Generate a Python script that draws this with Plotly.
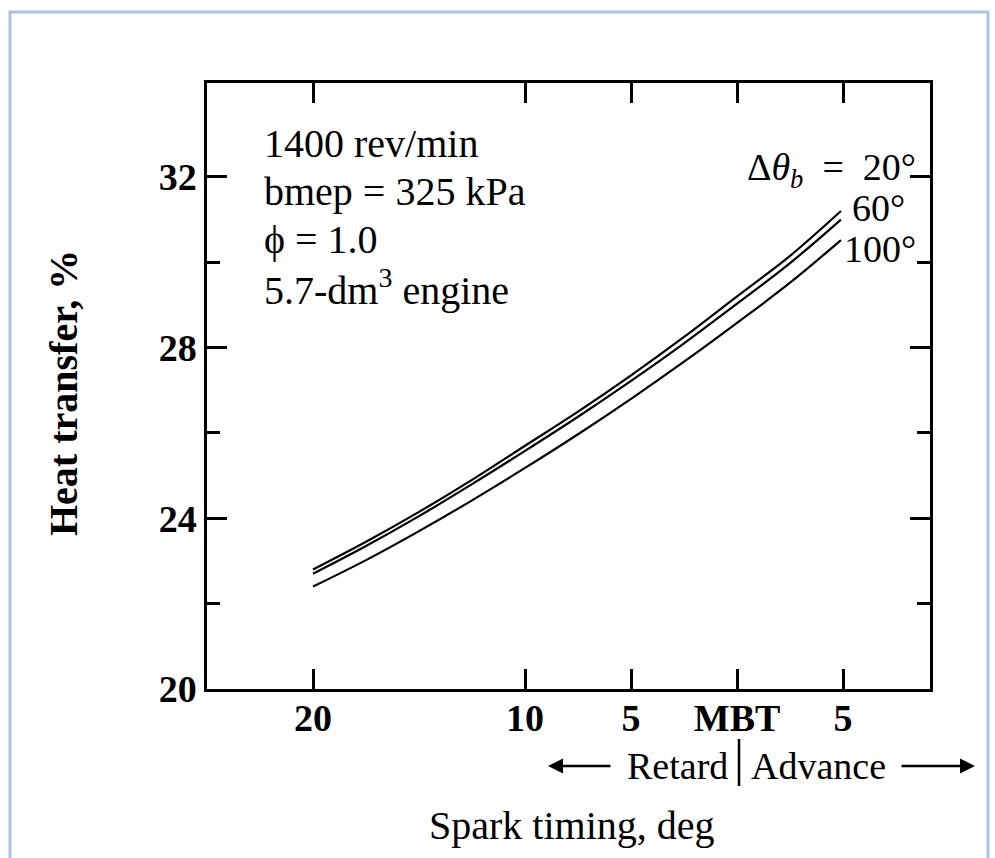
import plotly.graph_objects as go

# ---- data ----
# x: spark timing relative to MBT (negative = retard, positive = advance), deg
x_vals = [-20, -17.5, -15, -12.5, -10, -7.5, -5, -2.5, 0, 2.5, 4.9]
ht_20 = [22.8, 23.45, 24.15, 24.9, 25.7, 26.5, 27.35, 28.25, 29.2, 30.15, 31.2]
ht_60 = [22.7, 23.35, 24.05, 24.8, 25.58, 26.38, 27.22, 28.1, 29.03, 29.98, 31.0]
ht_100 = [22.4, 23.02, 23.7, 24.42, 25.18, 25.97, 26.8, 27.67, 28.58, 29.52, 30.52]

x_tickvals = [-20, -10, -5, 0, 5]
x_ticktext = ["20", "10", "5", "MBT", "5"]
y_tickvals = [20, 24, 28, 32]
y_ticktext = ["20", "24", "28", "32"]

# ---- layout geometry ----
FIG_W, FIG_H = 995, 858
L, R, T, B = 207, 930, 83, 689
PW, PH = R - L, B - T


def px(xp):
    return (xp - L) / PW


def py(yp):
    return (B - yp) / PH


SERIF = "Liberation Serif, Times New Roman, serif"

fig = go.Figure()
for yv in (ht_20, ht_60, ht_100):
    fig.add_trace(go.Scatter(x=x_vals, y=yv, mode="lines", line=dict(color="black", width=2.2),
                             line_shape="spline", showlegend=False, hoverinfo="skip"))

axis_common = dict(showgrid=False, zeroline=False, showline=True, linecolor="black", linewidth=2.5,
                   mirror="ticks", ticks="inside", tickcolor="black", tickwidth=2.5, ticklen=20,
                   tickfont=dict(family=SERIF, size=38, color="black", weight="bold"))

fig.update_xaxes(range=[-25.0, 9.1], tickmode="array", tickvals=x_tickvals, ticktext=x_ticktext,
                 ticklabelstandoff=-6, **axis_common)
fig.update_yaxes(range=[20, 34.2], tickmode="array", tickvals=y_tickvals, ticktext=y_ticktext,
                 minor=dict(tickvals=[22, 26, 30], ticks="inside", ticklen=13, tickwidth=2.5,
                            tickcolor="black"),
                 **axis_common)

ann = []
txt_font = dict(family=SERIF, size=40, color="black")
lbl_font = dict(family=SERIF, size=38, color="black")
info_lines = ["1400 rev/min", "bmep = 325 kPa", "ϕ = 1.0", "5.7-dm<sup>3</sup> engine"]
for i, t in enumerate(info_lines):
    ann.append(dict(x=px(262), y=py(143 + 48 * i), xref="paper", yref="paper", text=t,
                    showarrow=False, xanchor="left", yanchor="middle", font=txt_font))

ann.append(dict(x=px(918), y=py(170), xref="paper", yref="paper",
                text="Δ<i>θ</i><sub><i>b</i></sub>\u2002=\u200220°", showarrow=False,
                xanchor="right", yanchor="middle", font=lbl_font))
ann.append(dict(x=px(850), y=py(208), xref="paper", yref="paper", text="60°", showarrow=False,
                xanchor="left", yanchor="middle", font=lbl_font))
ann.append(dict(x=px(842), y=py(249), xref="paper", yref="paper", text="100°", showarrow=False,
                xanchor="left", yanchor="middle", font=lbl_font))

# axis titles
ann.append(dict(x=px(63), y=py(393), xref="paper", yref="paper", text="Heat transfer, %",
                textangle=-90, showarrow=False, xanchor="center", yanchor="middle",
                font=dict(family=SERIF, size=40, color="black", weight="bold")))
ann.append(dict(x=px(572), y=py(826), xref="paper", yref="paper", text="Spark timing, deg",
                showarrow=False, xanchor="center", yanchor="middle", font=txt_font))

# Retard | Advance
ann.append(dict(x=px(730), y=py(766), xref="paper", yref="paper", text="Retard",
                showarrow=False, xanchor="right", yanchor="middle", font=lbl_font))
ann.append(dict(x=px(749), y=py(766), xref="paper", yref="paper", text="Advance",
                showarrow=False, xanchor="left", yanchor="middle", font=lbl_font))
ann.append(dict(x=px(548), y=py(766), xref="paper", yref="paper", text="", showarrow=True,
                ax=64, ay=0, axref="pixel", ayref="pixel", arrowhead=2, arrowsize=1.2,
                arrowwidth=2.5, arrowcolor="black"))
ann.append(dict(x=px(975), y=py(766), xref="paper", yref="paper", text="", showarrow=True,
                ax=-75, ay=0, axref="pixel", ayref="pixel", arrowhead=2, arrowsize=1.2,
                arrowwidth=2.5, arrowcolor="black"))

shapes = [
    dict(type="line", xref="paper", yref="paper", x0=px(739), x1=px(739), y0=py(739), y1=py(786),
         line=dict(color="black", width=2.5)),
    dict(type="rect", xref="paper", yref="paper", x0=px(10), x1=px(988), y0=py(880), y1=py(12),
         line=dict(color="#a9c4e8", width=3), layer="below"),
]

fig.update_layout(width=FIG_W, height=FIG_H, margin=dict(l=L, r=FIG_W - R, t=T, b=FIG_H - B),
                  paper_bgcolor="white", plot_bgcolor="white", annotations=ann, shapes=shapes,
                  showlegend=False)

fig.write_html("out.html")
